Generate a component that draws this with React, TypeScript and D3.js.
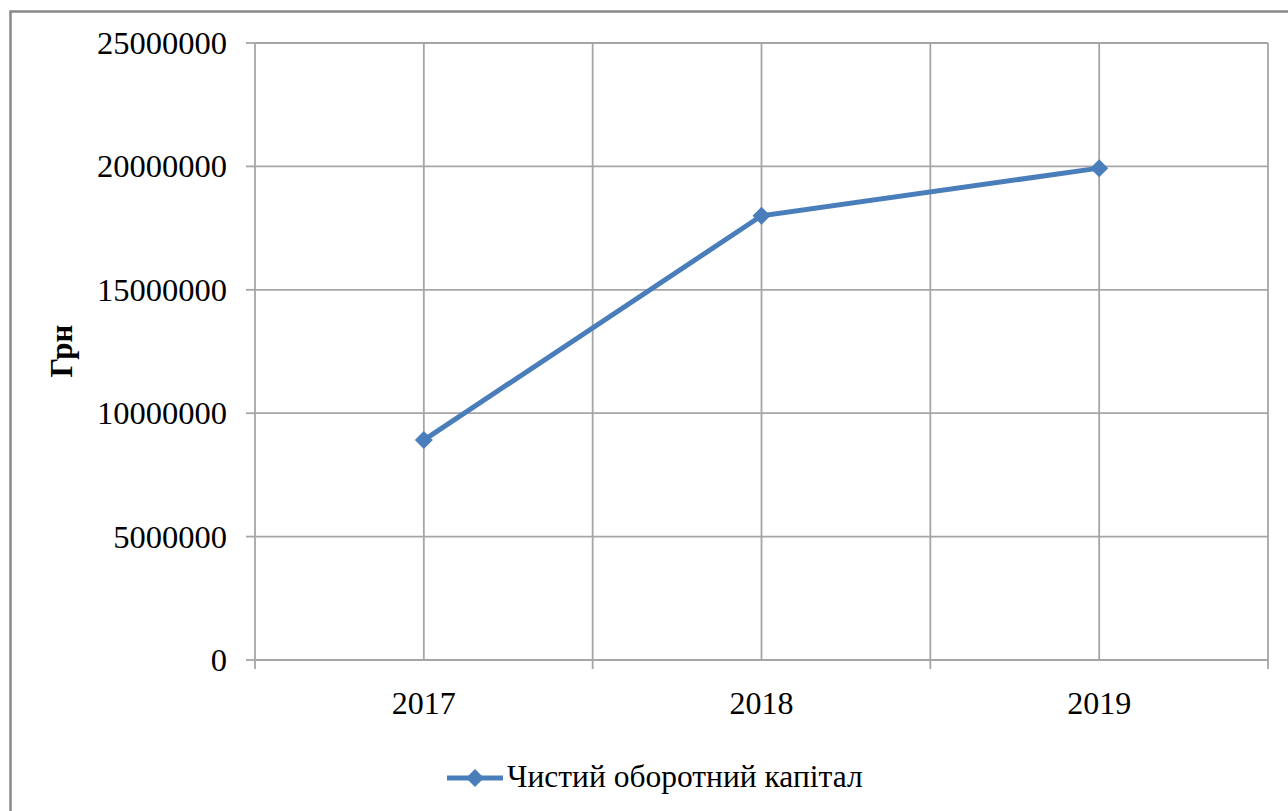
import React from "react";
import * as d3 from "d3";

const categories = ["2017", "2018", "2019"];
const values = [8910000, 18000000, 19930000];
const yTicks = [0, 5000000, 10000000, 15000000, 20000000, 25000000];
const seriesName = "Чистий оборотний капітал";
const yTitle = "Грн";

const W = 1288;
const H = 811;
const left = 255;
const right = 1268;
const top = 43;
const bottom = 660;
const lineColor = "#4a7ebb";
const gridColor = "#a6a6a6";
const font = "'Liberation Serif', 'Times New Roman', serif";

export default function App() {
  const x = d3.scaleBand<string>().domain(categories).range([left, right]).paddingInner(0).paddingOuter(0);
  const y = d3.scaleLinear().domain([0, 25000000]).range([bottom, top]);
  const bw = x.bandwidth();
  const cx = (c: string) => (x(c) as number) + bw / 2;
  const line = d3.line<number>().x((_, i) => cx(categories[i])).y((d) => y(d));
  const boundaries = [...categories.map((c) => x(c) as number), right];
  const diamond = (px: number, py: number, r = 9) =>
    `M${px},${py - r}L${px + r},${py}L${px},${py + r}L${px - r},${py}Z`;

  return (
    <svg
      width={W}
      height={H}
      style={{ position: "absolute", left: 0, top: 0, background: "#fff" }}
      fontFamily={font}
    >
      <rect x={0} y={0} width={W} height={H} fill="#fff" />
      <rect x={10.5} y={11.5} width={W + 20} height={H + 20} fill="none" stroke="#888" strokeWidth={2.5} />
      {/* horizontal gridlines */}
      {yTicks.map((t) => (
        <line key={"h" + t} x1={left} x2={right} y1={y(t)} y2={y(t)} stroke={gridColor} strokeWidth={1.8} />
      ))}
      {/* vertical gridlines at boundaries and centers */}
      {boundaries.map((b, i) => (
        <line key={"vb" + i} x1={b} x2={b} y1={top} y2={bottom} stroke={gridColor} strokeWidth={1.8} />
      ))}
      {categories.map((c) => (
        <line key={"vc" + c} x1={cx(c)} x2={cx(c)} y1={top} y2={bottom} stroke={gridColor} strokeWidth={1.8} />
      ))}
      {/* y ticks */}
      {yTicks.map((t) => (
        <line key={"yt" + t} x1={left - 9} x2={left} y1={y(t)} y2={y(t)} stroke={gridColor} strokeWidth={1.8} />
      ))}
      {/* x ticks */}
      {boundaries.map((b, i) => (
        <line key={"xt" + i} x1={b} x2={b} y1={bottom} y2={bottom + 9} stroke={gridColor} strokeWidth={1.8} />
      ))}
      {/* y labels */}
      {yTicks.map((t) => (
        <text key={"yl" + t} x={227} y={y(t)} dy="0.34em" textAnchor="end" fontSize={32.5} fill="#000">
          {String(t)}
        </text>
      ))}
      {/* x labels */}
      {categories.map((c) => (
        <text key={"xl" + c} x={cx(c)} y={714} textAnchor="middle" fontSize={32} fill="#000">
          {c}
        </text>
      ))}
      {/* y title */}
      <text
        transform={`translate(72,351) rotate(-90)`}
        textAnchor="middle"
        fontSize={31}
        fontWeight="bold"
        fill="#000"
      >
        {yTitle}
      </text>
      {/* series */}
      <path d={line(values) || ""} fill="none" stroke={lineColor} strokeWidth={5} strokeLinejoin="round" />
      {values.map((v, i) => (
        <path key={"m" + i} d={diamond(cx(categories[i]), y(v))} fill={lineColor} />
      ))}
      {/* legend */}
      <line x1={447} x2={503} y1={778} y2={778} stroke={lineColor} strokeWidth={5} />
      <path d={diamond(475, 778)} fill={lineColor} />
      <text x={507} y={787} fontSize={31.5} fill="#000">
        {seriesName}
      </text>
    </svg>
  );
}
